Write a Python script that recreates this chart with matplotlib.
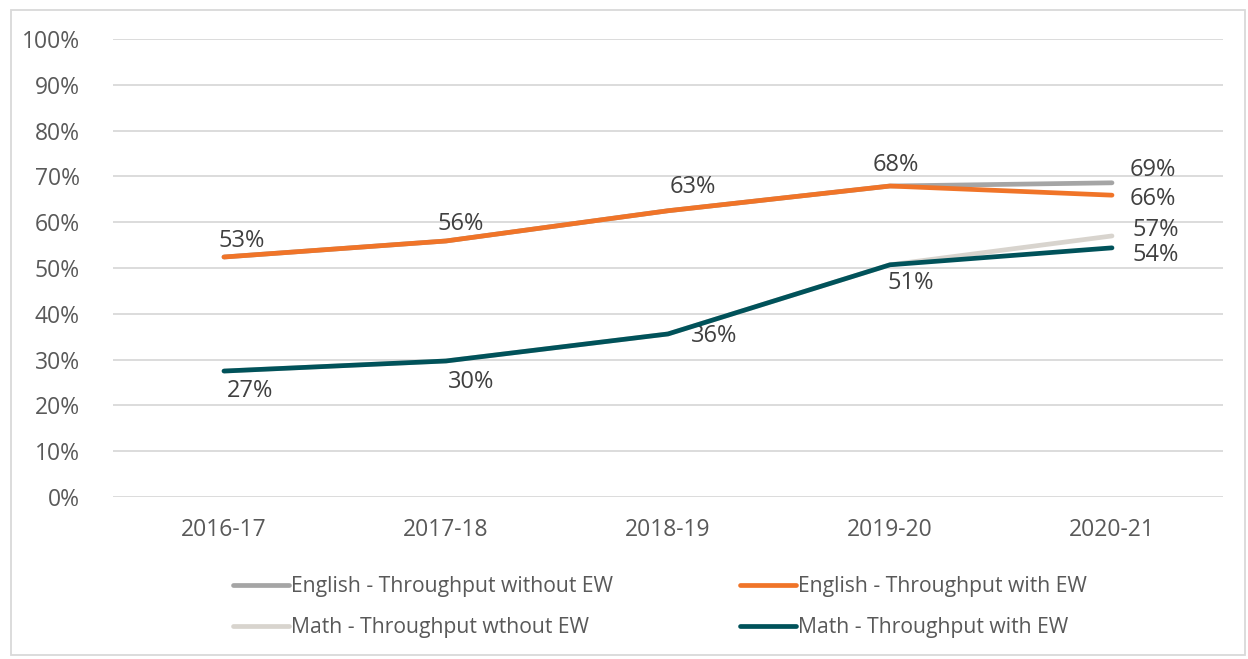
import matplotlib
matplotlib.use("Agg")
import matplotlib.pyplot as plt
from matplotlib.patches import Rectangle

categories = ["2016-17", "2017-18", "2018-19", "2019-20", "2020-21"]
eng_without = [52.4, 55.9, 62.5, 67.9, 68.6]
eng_with = [52.4, 55.9, 62.5, 67.9, 65.9]
math_without = [27.5, 29.7, 35.6, 50.7, 57.0]
math_with = [27.5, 29.7, 35.6, 50.7, 54.4]
eng_labels = ["53%", "56%", "63%", "68%", "66%"]
math_labels = ["27%", "30%", "36%", "51%", "54%"]
eng_without_end = "69%"
math_without_end = "57%"
yticks = list(range(0, 101, 10))

plt.rcParams['font.family'] = ['Open Sans', 'DejaVu Sans']

W, H = 1248, 659
fig = plt.figure(figsize=(W / 100, H / 100), dpi=100)
ax = fig.add_axes([113 / W, 1 - 497 / H, (1223 - 113) / W, (497 - 39) / H])

x = list(range(len(categories)))
c_eng_wo = "#A5A5A5"
c_eng_w = "#F07428"
c_math_wo = "#D8D4CE"
c_math_w = "#00525A"
lw = 3.4

h1, = ax.plot(x, eng_without, color=c_eng_wo, lw=lw, solid_capstyle="round", label="English - Throughput without EW", zorder=3)
h2, = ax.plot(x, eng_with, color=c_eng_w, lw=lw, solid_capstyle="round", label="English - Throughput with EW", zorder=4)
h3, = ax.plot(x, math_without, color=c_math_wo, lw=lw, solid_capstyle="round", label="Math - Throughput wthout EW", zorder=3)
h4, = ax.plot(x, math_with, color=c_math_w, lw=lw, solid_capstyle="round", label="Math - Throughput with EW", zorder=4)

ax.set_xlim(-0.5, 4.5)
ax.set_ylim(0, 100)
ax.set_yticks(yticks)
ax.set_yticklabels([f"{t}%" for t in yticks])
ax.set_xticks(x)
ax.set_xticklabels(categories)
ax.grid(axis="y", color="#D9D9D9", lw=1.3, zorder=0)
ax.set_axisbelow(True)
for s in ax.spines.values():
    s.set_visible(False)
ax.tick_params(axis="both", length=0, labelsize=16.5, labelcolor="#595959")
ax.tick_params(axis="y", pad=24)
ax.tick_params(axis="x", pad=15)

lab_kw = dict(textcoords="offset pixels", fontsize=17, color="#404040", va="center")
eng_off = [(18, 16), (15, 17), (25, 24), (6, 21)]
for i in range(4):
    ax.annotate(eng_labels[i], (x[i], eng_with[i]), xytext=eng_off[i], ha="center", **lab_kw)
ax.annotate(eng_labels[4], (x[4], eng_with[4]), xytext=(18, -4), ha="left", **lab_kw)
ax.annotate(eng_without_end, (x[4], eng_without[4]), xytext=(18, 13), ha="left", **lab_kw)

math_off = [(26, -20), (25, -21), (46, -2), (21, -18)]
for i in range(4):
    ax.annotate(math_labels[i], (x[i], math_with[i]), xytext=math_off[i], ha="center", **lab_kw)
ax.annotate(math_labels[4], (x[4], math_with[4]), xytext=(21, -7), ha="left", **lab_kw)
ax.annotate(math_without_end, (x[4], math_without[4]), xytext=(21, 6), ha="left", **lab_kw)

fig.legend(handles=[h1, h3, h2, h4], loc="center", bbox_to_anchor=(660 / W, 1 - 607 / H), ncol=2,
           frameon=False, fontsize=15.2, labelcolor="#595959", handlelength=2.65, handletextpad=0.1,
           columnspacing=6.0, labelspacing=0.95)

fig.patches.append(Rectangle((11 / W, 1 - 655 / H), (1245 - 11) / W, (655 - 10) / H,
                             transform=fig.transFigure, fill=False, edgecolor="#D9D9D9", lw=1.3))

fig.savefig("out.png", dpi=100)
